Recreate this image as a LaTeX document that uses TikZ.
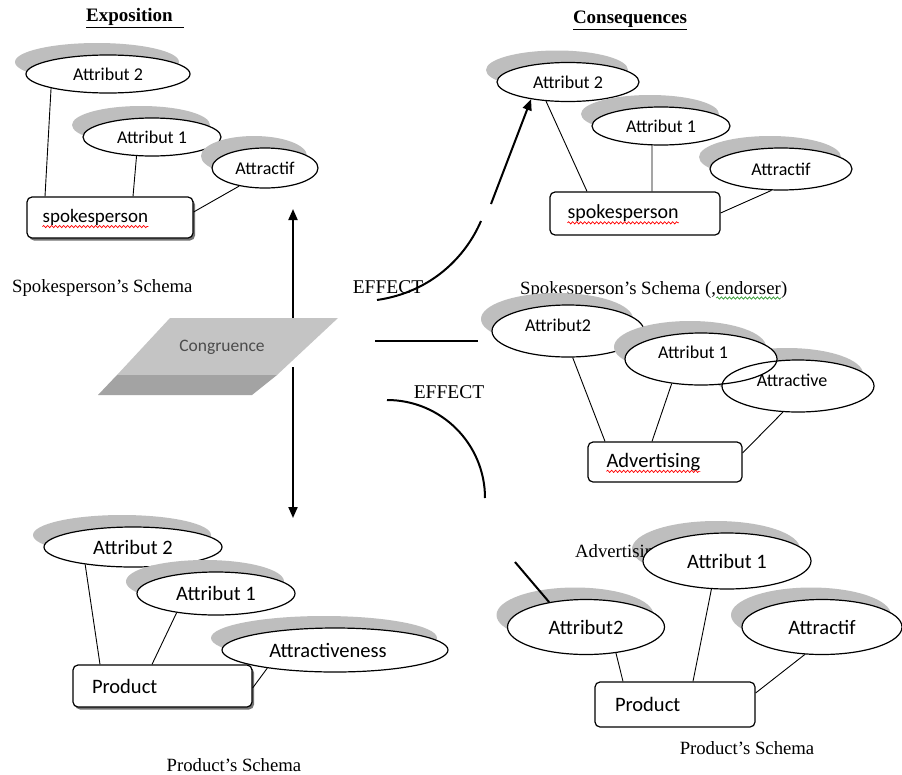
\documentclass[tikz,border=0pt]{standalone}
\usepackage{fontspec}
\setmainfont{Liberation Serif}
\newfontfamily\calfont{Carlito}
\usetikzlibrary{shapes.geometric,shadows,arrows.meta,calc,decorations.pathmorphing}
\pgfdeclarelayer{bg}
\pgfsetlayers{bg,main}
\definecolor{shadowc}{RGB}{190,190,190}
\definecolor{conglight}{RGB}{196,196,196}
\definecolor{congdark}{RGB}{163,163,163}
\definecolor{waveg}{RGB}{40,150,40}
\tikzset{
  ellbase/.style={ellipse, inner sep=0pt, font=\calfont\fontsize{#1}{#1}\selectfont},
  ellbase/.default=18,
  attr/.style={ellbase=#1, draw, line width=1.2pt, fill=white,
    drop shadow={shadow xshift=-11pt, shadow yshift=12pt, fill=shadowc, opacity=1}},
  attr/.default=18,
  attrplain/.style={ellbase=#1, draw, line width=1.2pt, fill=white},
  attrplain/.default=18,
  attrfill/.style={ellbase, draw=none, fill=white,
    drop shadow={shadow xshift=-11pt, shadow yshift=12pt, fill=shadowc, opacity=1}},
  box/.style={draw, rounded corners=5pt, line width=1.2pt, fill=white, align=left,
    inner ysep=0pt, font=\calfont\fontsize{#1}{#1}\selectfont},
  box/.default=19,
  boxtxt/.style={inner sep=0pt, anchor=west, font=\calfont\fontsize{#1}{#1}\selectfont},
  boxtxt/.default=19,
  boxshadow/.style={drop shadow={shadow xshift=2pt, shadow yshift=-2.5pt, fill=black!55, opacity=1}},
  wedge/.style={fill=shadowc},
  wavy/.style={draw=#1, line width=0.7pt, decorate, decoration={snake, amplitude=1.1pt, segment length=4pt}},
  link/.style={line width=0.9pt},
  effline/.style={line width=2pt},
  arr/.style={line width=2pt, -{Triangle[length=11pt,width=9pt]}},
  lbl/.style={inner sep=0pt, font=\fontsize{18.7}{18.7}\selectfont},
  efflbl/.style={inner sep=0pt, font=\fontsize{19.5}{19.5}\selectfont},
  ttl/.style={inner sep=0pt, font=\bfseries\fontsize{19}{19}\selectfont}
}
\begin{document}
\begin{tikzpicture}[x=1pt,y=-1pt]
\fill[white] (0,0) rectangle (902,774);
\useasboundingbox (0,0) rectangle (902,774);

% ---------- titles ----------
\node[ttl] (expo) at (135,18) {\underline{Exposition\hspace{11pt}}};
\node[ttl] (conseq) at (630,20) {\underline{Consequences}};

% ---------- top-left: spokesperson's schema ----------
\node[attr=18, minimum width=164, minimum height=38] (tlA2) at (108,74) {Attribut 2};
\node[attr=18, minimum width=138, minimum height=38] (tlA1) at (152,137) {Attribut 1};
\node[attr=18, minimum width=106, minimum height=40] (tlAt) at (265,168) {Attractif};
\node[box, boxshadow, minimum width=166, minimum height=41] (tlBox) at (110,217.5) {};
\node[boxtxt=19] (tlBoxT) at ($(tlBox.west)+(16,0)$) {spokesperson};
\draw[wavy=red] ($(tlBoxT.base west)+(0,4)$) -- ($(tlBoxT.base east)+(0,4)$);
\draw[link] (tlA2.194) -- (45,0 |- tlBox.north);
\draw[link] (tlA1.231) -- (133,0 |- tlBox.north);
\draw[link] (tlAt.215) -- (tlBox.east |- 0,212);
\node[lbl, anchor=west] (spkS) at (12,288) {Spokesperson’s Schema};

% ---------- congruence ----------
\fill[conglight] (170,318) -- (338,318) -- (277,375) -- (117,375) -- cycle;
\fill[congdark] (117,375) -- (277,375) -- (252,395) -- (98,395) -- cycle;
\node[font=\calfont\fontsize{17.5}{17.5}\selectfont, text=black!70] (cong) at (222,347) {Congruence};
\coordinate (upS) at (293,318);
\coordinate (upE) at (293,209);
\coordinate (dnS) at (293,367);
\coordinate (dnE) at (293,518);
\draw[arr] (upS) -- (upE);
\draw[arr] (dnS) -- (dnE);

% ---------- top-right: consequences ----------
\node[attr=18, minimum width=142, minimum height=39] (trA2) at (568,82) {Attribut 2};
\node[attr=18, minimum width=138, minimum height=38] (trA1) at (661,126) {Attribut 1};
\node[attr=18, minimum width=142, minimum height=42] (trAt) at (781,169) {Attractif};
\node[box, minimum width=170, minimum height=43] (trBox) at (635,213.5) {};
\node[boxtxt=20] (trBoxT) at ($(trBox.west)+(18,0)$) {spokesperson};
\draw[wavy=red] ($(trBoxT.base west)+(0,4)$) -- ($(trBoxT.base east)+(0,4)$);
\begin{pgfonlayer}{bg}
\fill[wedge] ($(trBox.south east)+(0,-12)$) -- ($(trBox.south east)+(37,-22)$) -- ($(trBox.south east)+(22,0)$) -- (trBox.south east) -- cycle;
\end{pgfonlayer}
\draw[link] (trA2.221) -- (587,0 |- trBox.north);
\draw[link] (trA1.245) -- (652,0 |- trBox.north);
\draw[link] (trAt.246) -- (trBox.east |- 0,213);
\node[lbl, anchor=base west] (spkE) at (520,294) {Spokesperson’s Schema (,};
\node[lbl, anchor=base west] (endo) at (spkE.base east) {endorser};
\node[lbl, anchor=base west] (endp) at (endo.base east) {)};
\draw[wavy=waveg] ($(endo.base west)+(0,4)$) -- ($(endo.base east)+(0,4)$);

% ---------- effect connectors ----------
\node[efflbl] (eff1) at (388,287) {EFFECT};
\coordinate (e1s) at (377,300);
\coordinate (e1m) at (481,221);
\coordinate (e1n) at (491,204);
\draw[effline] (e1s) .. controls (432,292) and (466,256) .. (e1m);
\draw[arr] (e1n) -- (trA2.205);
\coordinate (h1) at (375,341);
\coordinate (h2) at (478,341);
\draw[effline] (h1) -- (h2);
\node[efflbl] (eff2) at (449,392) {EFFECT};
\coordinate (a1) at (387,400);
\draw[effline] (a1) arc[start angle=270, end angle=360, radius=98];

% ---------- middle-right: advertising ----------
\node[attr=18, minimum width=152, minimum height=52] (mrA2) at (568,331) {\raisebox{12pt}{Attribut2}\hspace*{20pt}};
\node[attrfill, minimum width=152, minimum height=52] (mrAtbg) at (798,386) {};
\node[attr=18, minimum width=152, minimum height=52] (mrA1) at (701,359) {\raisebox{13pt}{Attribut 1}\hspace*{16pt}};
\node[attrplain=18, fill=none, minimum width=152, minimum height=52] (mrAt) at (798,386) {\raisebox{12pt}{Attractive}\hspace*{12pt}};
\node[box, minimum width=154, minimum height=40] (mrBox) at (665,462) {};
\node[boxtxt=20.5] (mrBoxT) at ($(mrBox.west)+(19,0)$) {Advertising};
\draw[wavy=red] ($(mrBoxT.base west)+(0,4)$) -- ($(mrBoxT.base east)+(0,4)$);
\begin{pgfonlayer}{bg}
\fill[wedge] ($(mrBox.south east)+(0,-15)$) -- ($(mrBox.south east)+(31,-20)$) -- ($(mrBox.south east)+(10,0)$) -- (mrBox.south east) -- cycle;
\end{pgfonlayer}
\draw[link] (mrA2.280) -- (605,0 |- mrBox.north);
\draw[link] (mrA1.220) -- (652,0 |- mrBox.north);
\draw[link] (mrAt.240) -- (mrBox.east |- 0,453);

% ---------- bottom-left: product ----------
\node[attr=20.5, minimum width=178, minimum height=40] (blA2) at (133,547) {Attribut 2};
\node[attr=20.5, minimum width=158, minimum height=43] (blA1) at (216,593.5) {Attribut 1};
\node[attr=20.5, minimum width=226, minimum height=44] (blAt) at (335,650) {Attractiveness\hspace*{14pt}};
\node[box=20.5, boxshadow, minimum height=42, text width=141, inner xsep=19] (blBox) at (162.5,686) {Product};
\draw[link] (blA2.200) -- (100,0 |- blBox.north);
\draw[link] (blA1.206) -- (152,0 |- blBox.north);
\draw[link] (blAt.195) -- (blBox.east |- 0,688);
\node[lbl] (prS1) at (234,765) {Product’s Schema};

% ---------- bottom-right: product ----------
\fill[shadowc] (716,549) ellipse [x radius=84, y radius=28];
\node[lbl, anchor=west] (advT) at (575,553) {Advertising};
\node[attrplain=20.5, minimum width=168, minimum height=56] (brA1) at (727,561) {Attribut 1};
\node[attr=20.5, minimum width=157, minimum height=55] (brA2) at (586,627) {Attribut2};
\node[attr=20.5, minimum width=160, minimum height=55] (brAt) at (822,627) {Attractif};
\node[box=20.5, minimum height=45, text width=120, inner xsep=20] (brBox) at (675,704.5) {Product};
\begin{pgfonlayer}{bg}
\fill[wedge] ($(brBox.south east)+(0,-19)$) -- ($(brBox.south east)+(35,-24)$) -- ($(brBox.south east)+(10,-2)$) -- ($(brBox.south east)+(0,-2)$) -- cycle;
\end{pgfonlayer}
\draw[link] (brA2.319) -- (623,0 |- brBox.north);
\draw[link] (brA1.241) -- (693,0 |- brBox.north);
\draw[link] (brAt.238) -- (brBox.east |- 0,693);
\coordinate (s1) at (515,562);
\draw[effline] (s1) -- (brA2.146);
\node[lbl] (prS2) at (747,748) {Product’s Schema};
\end{tikzpicture}
\end{document}
